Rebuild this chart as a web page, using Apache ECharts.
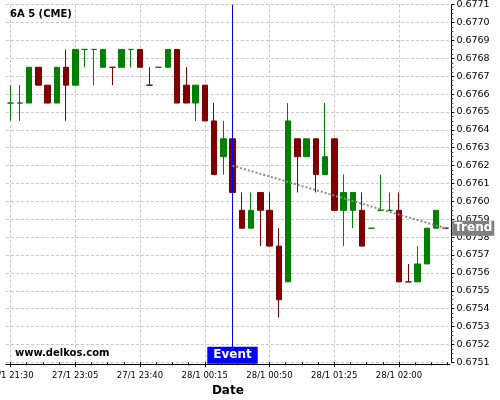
<!DOCTYPE html>
<html>
<head>
<meta charset="utf-8">
<script src="https://cdn.jsdelivr.net/npm/echarts@6/dist/echarts.min.js"></script>
<style>html,body{margin:0;padding:0;background:#fff}#c{width:500px;height:400px}</style>
</head>
<body>
<div id="c"></div>
<script>
const categories = [
  '27/1 21:30','27/1 22:35','27/1 22:40','27/1 22:45','27/1 22:50','27/1 22:55','27/1 23:00',
  '27/1 23:05','27/1 23:10','27/1 23:15','27/1 23:20','27/1 23:25','27/1 23:30','27/1 23:35',
  '27/1 23:40','27/1 23:45','27/1 23:50','27/1 23:55','28/1 00:00','28/1 00:05','28/1 00:10',
  '28/1 00:15','28/1 00:20','28/1 00:25','28/1 00:30','28/1 00:35','28/1 00:40','28/1 00:45',
  '28/1 00:50','28/1 00:55','28/1 01:00','28/1 01:05','28/1 01:10','28/1 01:15','28/1 01:20',
  '28/1 01:25','28/1 01:30','28/1 01:35','28/1 01:40','28/1 01:45','28/1 01:50','28/1 01:55',
  '28/1 02:00','28/1 02:05','28/1 02:10','28/1 02:15','28/1 02:20','28/1 02:25'
];
const opens = [
  0.67655,0.67655,0.67655,0.67675,0.67665,0.67655,0.67675,0.67665,0.67685,0.67685,
  0.67675,0.67675,0.67675,0.67685,0.67685,0.67665,0.67675,0.67675,0.67685,0.67665,
  0.67655,0.67665,0.67645,0.67625,0.67635,0.67595,0.67585,0.67605,0.67595,0.67575,
  0.67555,0.67635,0.67625,0.67635,0.67615,0.67635,0.67595,0.67595,0.67595,0.67585,
  0.67595,0.67595,0.67595,0.67555,0.67555,0.67565,0.67585,0.67585
];
const closes = [
  0.67655,0.67655,0.67675,0.67665,0.67655,0.67675,0.67665,0.67685,0.67685,0.67685,
  0.67685,0.67675,0.67685,0.67685,0.67675,0.67665,0.67675,0.67685,0.67655,0.67655,
  0.67665,0.67645,0.67615,0.67635,0.67605,0.67585,0.67595,0.67595,0.67575,0.67545,
  0.67645,0.67625,0.67635,0.67615,0.67625,0.67595,0.67605,0.67605,0.67575,0.67585,
  0.67595,0.67595,0.67555,0.67555,0.67565,0.67585,0.67595,0.67585
];
const lows = [
  0.67645,0.67645,0.67655,0.67665,0.67655,0.67655,0.67645,0.67665,0.67675,0.67665,
  0.67675,0.67665,0.67675,0.67675,0.67675,0.67665,0.67675,0.67675,0.67655,0.67655,
  0.67645,0.67645,0.67615,0.67615,0.67605,0.67585,0.67585,0.67575,0.67575,0.67535,
  0.67555,0.67605,0.67625,0.67605,0.67615,0.67595,0.67575,0.67585,0.67575,0.67585,
  0.67595,0.67595,0.67555,0.67555,0.67555,0.67565,0.67585,0.67585
];
const highs = [
  0.67665,0.67665,0.67675,0.67675,0.67665,0.67675,0.67685,0.67685,0.67685,0.67685,
  0.67685,0.67675,0.67685,0.67685,0.67685,0.67675,0.67675,0.67685,0.67685,0.67675,
  0.67665,0.67665,0.67655,0.67645,0.67635,0.67605,0.67605,0.67605,0.67605,0.67585,
  0.67655,0.67635,0.67635,0.67635,0.67655,0.67635,0.67615,0.67605,0.67605,0.67585,
  0.67615,0.67605,0.67605,0.67565,0.67575,0.67585,0.67595,0.67585
];
const yTicks = {min: 0.6751, max: 0.6771, step: 0.0001};
const eventIndex = 24;
const trendStart = {index: 24, value: 0.67620};
const trendEnd = {index: 47, value: 0.67585};

const UP = '#008000', DOWN = '#800000';
const FONT = 'DejaVu Sans';

// colour of each candle; a doji that equals the previous close keeps the previous colour
const colors = [];
for (let i = 0; i < opens.length; i++) {
  let c;
  if (closes[i] > opens[i]) c = UP;
  else if (closes[i] < opens[i]) c = DOWN;
  else if (i === 0) c = UP;
  else if (closes[i] > closes[i-1]) c = UP;
  else if (closes[i] < closes[i-1]) c = DOWN;
  else c = colors[i-1];
  colors.push(c);
}
const ohlc = opens.map((o, i) => ({
  value: [o, closes[i], lows[i], highs[i]],
  itemStyle: {color: colors[i], color0: colors[i], borderColor: colors[i], borderColor0: colors[i], borderColorDoji: colors[i]}
}));

const SW = 9.25, N = categories.length;
const c0 = 10.5;
const GL = c0 - SW / 2;
const GT = 4.7, GB = 400 - 362.3;
const gridRight0 = 500 - (GL + N * SW);

const chart = echarts.init(document.getElementById('c'), null, {renderer: 'canvas'});
chart.setOption({
  animation: false,
  backgroundColor: '#fff',
  title: {text: '6A 5 (CME)', left: 10, top: 9, padding: 0,
    textStyle: {fontFamily: FONT, fontSize: 10, fontWeight: 'bold', color: '#000'}},
  graphic: [{type: 'text', left: 15, top: 348, z: 100,
    style: {text: 'www.delkos.com', font: 'bold 10px "DejaVu Sans"', fill: '#000'}}],
  grid: [
    {left: GL, right: gridRight0, top: GT, bottom: GB, containLabel: false, outerBoundsMode: 'none'},
    {left: c0, width: 47.25 * SW, top: GT, bottom: GB, containLabel: false, outerBoundsMode: 'none'},
    {left: c0, width: 42 * SW, top: GT, bottom: GB, containLabel: false, outerBoundsMode: 'none'}
  ],
  xAxis: [
    {type: 'category', gridIndex: 0, data: categories, boundaryGap: true, offset: 1.7,
      axisLine: {show: true, lineStyle: {color: '#000', width: 1}},
      axisTick: {show: false},
      axisLabel: {interval: 6, color: '#000', fontFamily: FONT, fontSize: 8.5, margin: 7, hideOverlap: false},
      splitLine: {show: false},
      name: 'Date', nameLocation: 'middle', nameGap: 20,
      nameTextStyle: {fontFamily: FONT, fontSize: 12, fontWeight: 'bold', color: '#000'}},
    {type: 'value', gridIndex: 1, min: 0, max: 47.25, interval: 1.75, offset: 1.7,
      axisLine: {show: false}, axisLabel: {show: false}, splitLine: {show: false},
      axisTick: {show: true, length: 3, lineStyle: {color: '#000'}}},
    {type: 'value', gridIndex: 2, min: 0, max: 42, interval: 7, offset: 1.7,
      axisLine: {show: false}, axisLabel: {show: false},
      axisTick: {show: true, length: 5, lineStyle: {color: '#000'}},
      splitLine: {show: true, lineStyle: {color: '#c8c8c8', type: [3, 2], width: 1}}}
  ],
  yAxis: [
    {type: 'value', gridIndex: 0, position: 'right', offset: 1.5,
      min: yTicks.min, max: yTicks.max, interval: yTicks.step,
      axisLine: {show: true, lineStyle: {color: '#000', width: 1}},
      axisTick: {show: true, length: 3, lineStyle: {color: '#000'}},
      minorTick: {show: true, splitNumber: 4, length: 2, lineStyle: {color: '#555'}},
      axisLabel: {color: '#000', fontFamily: FONT, fontSize: 9.5, margin: 5,
        formatter: v => v.toFixed(4)},
      splitLine: {show: true, lineStyle: {color: '#c8c8c8', type: [3, 2], width: 1}}},
    {type: 'value', gridIndex: 1, show: false, min: 0, max: 1},
    {type: 'value', gridIndex: 2, show: false, min: 0, max: 1}
  ],
  series: [{
    type: 'candlestick', xAxisIndex: 0, yAxisIndex: 0, data: ohlc, barWidth: 6, clip: false,
    itemStyle: {color: UP, color0: DOWN, borderColor: UP, borderColor0: DOWN, borderWidth: 1},
    markLine: {
      silent: true, symbol: 'none', animation: false,
      label: {show: false},
      lineStyle: {color: '#0000ff', width: 1, type: 'solid', opacity: 1},
      data: [
        {xAxis: eventIndex, lineStyle: {color: '#0000ff', width: 1, type: 'solid'}},
        [{coord: [trendStart.index, trendStart.value], lineStyle: {color: '#8a8a8a', width: 2, type: [2, 2]}},
         {coord: [trendEnd.index, trendEnd.value]}]
      ]
    },
    markPoint: {
      silent: true, animation: false, symbol: 'circle', symbolSize: 1,
      itemStyle: {color: 'rgba(0,0,0,0)'},
      data: [
        {coord: [eventIndex, yTicks.min],
          label: {show: true, position: 'inside', offset: [0, -7], formatter: 'Event',
            color: '#fff', fontFamily: FONT, fontSize: 12, fontWeight: 'bold',
            backgroundColor: '#0000ff', padding: [2, 6, 1, 6], lineHeight: 14}},
        {coord: [trendEnd.index, trendEnd.value],
          label: {show: true, position: 'inside', offset: [28, 0], formatter: 'Trend',
            color: '#fff', fontFamily: FONT, fontSize: 12, fontWeight: 'bold',
            backgroundColor: '#808080', padding: [1, 2, 0, 2], lineHeight: 14}}
      ]
    }
  }]
});
</script>
</body>
</html>
